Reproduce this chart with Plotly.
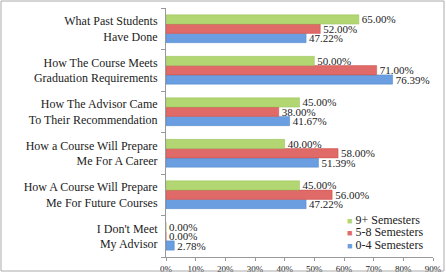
import plotly.graph_objects as go

categories = [
    "What Past Students<br>Have Done",
    "How The Course Meets<br>Graduation Requirements",
    "How The Advisor Came<br>To Their Recommendation",
    "How a Course Will Prepare<br>Me For A Career",
    "How A Course Will Prepare<br>Me For Future Courses",
    "I Don't Meet<br>My Advisor",
]
sem_9plus = [65.00, 50.00, 45.00, 40.00, 45.00, 0.00]
sem_5_8 = [52.00, 71.00, 38.00, 58.00, 56.00, 0.00]
sem_0_4 = [47.22, 76.39, 41.67, 51.39, 47.22, 2.78]
x_ticks = [0, 10, 20, 30, 40, 50, 60, 70, 80, 90]

FONT = "Liberation Serif, Times New Roman, serif"
cats = categories[::-1]
series = [
    ("0-4 Semesters", sem_0_4[::-1], "#6A9EE0", "#4F86C9"),
    ("5-8 Semesters", sem_5_8[::-1], "#E06A68", "#C94F4C"),
    ("9+ Semesters", sem_9plus[::-1], "#B2D671", "#97C05A"),
]

fig = go.Figure()
for name, vals, col, lc in series:
    fig.add_trace(go.Bar(
        y=cats, x=vals, name=name, orientation="h",
        marker=dict(color=col, line=dict(color=lc, width=0.5)),
        text=[f"{v:.2f}%" for v in vals], textposition="outside",
        constraintext="none",
        textfont=dict(family=FONT, size=11, color="#222"),
        cliponaxis=False, showlegend=False, hoverinfo="skip",
    ))

# legend drawn as text entries
annotations = []
for i, (name, vals, col, lc) in enumerate(series[::-1]):
    annotations.append(dict(
        xref="paper", yref="paper", x=0.672, y=0.149 - i * 0.05,
        xanchor="left", yanchor="middle",
        text=f"<span style='color:{col};font-size:9px'>■</span> {name}",
        showarrow=False, font=dict(family=FONT, size=12, color="#222"), align="left",
    ))

fig.update_layout(
    template="none",
    width=446, height=273,
    margin=dict(l=166, r=13, t=8, b=16, pad=0),
    barmode="group", bargap=0.33, bargroupgap=0,
    paper_bgcolor="white", plot_bgcolor="white",
    font=dict(family=FONT, color="#222"),
    showlegend=False,
    annotations=annotations,
    xaxis=dict(range=[0, 90], tickvals=x_ticks, ticktext=[f"{t}%" for t in x_ticks],
               showgrid=False, zeroline=False, showline=True, linecolor="#999",
               ticks="outside", ticklen=3, tickcolor="#999", automargin=False,
               tickfont=dict(size=9, family=FONT), fixedrange=True),
    yaxis=dict(showgrid=False, showline=True, linecolor="#999", ticks="outside",
               tickson="boundaries", ticklen=4, tickcolor="#999", automargin=False,
               ticklabelstandoff=5,
               tickfont=dict(size=12, family=FONT), fixedrange=True),
    shapes=[dict(type="rect", xref="paper", yref="paper",
                 x0=(1-166)/267, x1=(444-166)/267,
                 y0=(257-271)/249, y1=(257-1)/249,
                 line=dict(color="#aaa", width=1))],
)

fig.write_html("out.html", config={"displayModeBar": False},
               post_script="document.body.style.margin='0';")
